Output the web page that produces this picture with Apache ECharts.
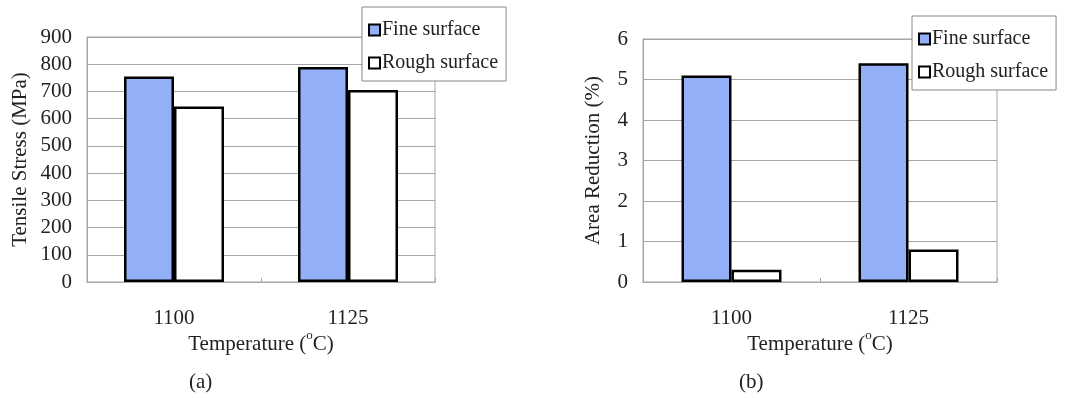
<!DOCTYPE html>
<html>
<head>
<meta charset="utf-8">
<script src="https://cdn.jsdelivr.net/npm/echarts@6/dist/echarts.min.js"></script>
<style>
  html, body { margin: 0; padding: 0; background: #fff; }
  #chart { width: 1080px; height: 398px; }
</style>
</head>
<body>
<div id="chart"></div>
<script>
// data
const categories = ['1100', '1125'];
const seriesNames = ['Fine surface', 'Rough surface'];
const stressFine = [755, 790];
const stressRough = [645, 705];
const areaFine = [5.1, 5.4];
const areaRough = [0.3, 0.8];

const FONT = 'Liberation Serif';
const TEXT = '#222';
const FINE = '#93aff7';
const GRIDLINE = '#a6a6a6';

const myChart = echarts.init(document.getElementById('chart'));

function yAxisFor(gridIndex, name, max, interval, nameGap) {
    return {
        type: 'value',
        gridIndex: gridIndex,
        min: 0,
        max: max,
        interval: interval,
        name: name,
        nameLocation: 'middle',
        nameGap: nameGap,
        nameTextStyle: { fontFamily: FONT, fontSize: 21, color: TEXT },
        axisLine: { show: true, lineStyle: { color: GRIDLINE } },
        axisTick: { show: false },
        axisLabel: { margin: 15, fontFamily: FONT, fontSize: 21, color: TEXT },
        splitLine: { show: true, lineStyle: { color: GRIDLINE, width: 1 } },
    };
}

function xAxisFor(gridIndex) {
    return {
        type: 'category',
        gridIndex: gridIndex,
        data: categories,
        // superscript "o" for degrees
        name: '{a|Temperature (}{s|o}{a|C)}',
        nameLocation: 'middle',
        nameGap: 47,
        nameMoveOverlap: false,
        nameTextStyle: {
            fontFamily: FONT,
            fontSize: 21,
            color: TEXT,
            rich: {
                a: { fontFamily: FONT, fontSize: 21, color: TEXT, lineHeight: 26, verticalAlign: 'bottom' },
                s: { fontFamily: FONT, fontSize: 13, color: TEXT, lineHeight: 8, verticalAlign: 'top' },
            },
        },
        axisLine: { show: true, lineStyle: { color: GRIDLINE } },
        axisTick: { show: true, inside: true, length: 4, lineStyle: { color: GRIDLINE } },
        axisLabel: { margin: 26, fontFamily: FONT, fontSize: 21, color: TEXT },
    };
}

function barSeries(name, axisIndex, data, color) {
    return {
        name: name,
        type: 'bar',
        xAxisIndex: axisIndex,
        yAxisIndex: axisIndex,
        barWidth: 50,
        barGap: '0%',
        itemStyle: { color: color, borderColor: '#000', borderWidth: 2.5 },
        emphasis: { disabled: true },
        data: data,
    };
}

function legendAt(left, top) {
    return {
        orient: 'vertical',
        left: left,
        top: top,
        data: seriesNames,
        icon: 'rect',
        itemWidth: 11,
        itemHeight: 11,
        itemGap: 13,
        padding: [13, 8, 8, 6],
        backgroundColor: '#fff',
        borderColor: '#888',
        borderWidth: 1,
        borderRadius: 0,
        textStyle: { fontFamily: FONT, fontSize: 20, color: TEXT, padding: [0, 0, 0, -3] },
        selectedMode: false,
    };
}

const option = {
    backgroundColor: '#fff',
    animation: false,
    title: [
        { text: '(a)', left: 184, top: 367, textStyle: { fontFamily: FONT, fontSize: 21, fontWeight: 'normal', color: TEXT } },
        { text: '(b)', left: 734, top: 367, textStyle: { fontFamily: FONT, fontSize: 21, fontWeight: 'normal', color: TEXT } },
    ],
    legend: [legendAt(362, 7), legendAt(912, 16)],
    grid: [
        { left: 87, top: 37, width: 348, height: 245, show: true, borderColor: GRIDLINE, borderWidth: 1, backgroundColor: 'transparent' },
        { left: 643, top: 39, width: 354, height: 243, show: true, borderColor: GRIDLINE, borderWidth: 1, backgroundColor: 'transparent' },
    ],
    xAxis: [xAxisFor(0), xAxisFor(1)],
    yAxis: [
        yAxisFor(0, 'Tensile Stress (MPa)', 900, 100, 56),
        yAxisFor(1, 'Area Reduction (%)', 6, 1, 39),
    ],
    series: [
        barSeries(seriesNames[0], 0, stressFine, FINE),
        barSeries(seriesNames[1], 0, stressRough, '#fff'),
        barSeries(seriesNames[0], 1, areaFine, FINE),
        barSeries(seriesNames[1], 1, areaRough, '#fff'),
    ],
};

myChart.setOption(option);
</script>
</body>
</html>
